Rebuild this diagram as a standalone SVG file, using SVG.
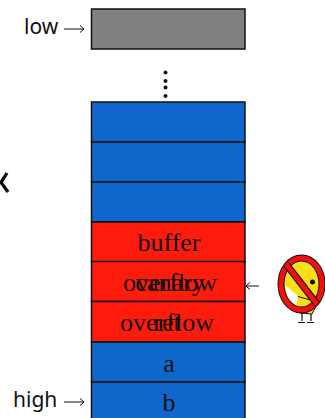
<svg xmlns="http://www.w3.org/2000/svg" width="325" height="418" viewBox="0 0 325 418">
<style>
.c{stroke:#111;stroke-width:1.500}
.b{fill:#0f67cb}.r{fill:#fe1b0b}
.t{font-family:"Liberation Serif",serif;font-size:26px;fill:#111;text-anchor:middle}
.s{font-family:"Noto Sans",sans-serif;font-size:21px;fill:#111}
.a{stroke:#111;stroke-width:1;fill:none}
</style>
<g id="low"><rect class="c" x="91.5" y="9" width="153.5" height="40" fill="#808080"/></g>
<g id="low-label"><text class="s" x="24" y="34">low</text></g>
<g id="high-label"><text class="s" x="13" y="407">high</text></g>
<g id="cell1"><rect class="c b" x="91.5" y="102" width="153.5" height="40"/></g>
<g id="cell2"><rect class="c b" x="91.5" y="142" width="153.5" height="40"/></g>
<g id="cell3"><rect class="c b" x="91.5" y="182" width="153.5" height="40"/></g>
<g id="buffer"><rect class="c r" x="91.5" y="222" width="153.5" height="40"/><text class="t" x="169" y="251">buffer</text></g>
<g id="canary"><rect class="c r" x="91.5" y="261.500" width="153.500" height="40"/><text class="t" x="170" y="291">overflow</text><text class="t" x="170" y="291">canary</text></g>
<g id="ret"><rect class="c r" x="91.5" y="301.500" width="153.500" height="40.500"/><text class="t" x="167" y="331">overflow</text><text class="t" x="167" y="331">ret</text></g>
<g id="a"><rect class="c b" x="91.5" y="342" width="153.500" height="40"/><text class="t" x="169" y="372">a</text></g>
<g id="b"><rect class="c b" x="91.5" y="382" width="153.500" height="40"/><text class="t" x="169" y="411">b</text></g>
<g id="dots" fill="#111"><circle cx="165.500" cy="72.500" r="2"/><circle cx="165.500" cy="81" r="2"/><circle cx="165.500" cy="87.500" r="2"/><circle cx="165.500" cy="96" r="2"/></g>
<g id="connectors">
<path class="a" d="M64 29H84M80 25.500L84 29L80 32.500"/>
<path class="a" d="M64 402H84M80 398.500L84 402L80 405.500"/>
<path class="a" d="M259 286H246M250 282.500L246 286L250 289.500"/>
</g>
<g id="cut-letter"><path d="M7 173L1 182.500L8 192" fill="none" stroke="#000" stroke-width="3.200"/></g>
<g id="bird">
<path d="M302 312v9M298 322.500h7M311 312v9M307 322.500h7" stroke="#111" stroke-width="1.200" fill="none"/>
<ellipse cx="303" cy="283" rx="19" ry="26" fill="#f7e018"/>
<path d="M296 296l-4 14 8 3 12 1 6-12z" fill="#f7e018" stroke="#111" stroke-width="1"/>
<circle cx="312.500" cy="282" r="2.500" fill="#111"/>
<path d="M285 285L288 299L296 306L298 296z" fill="#fff"/>
<ellipse cx="301.500" cy="284" rx="20.500" ry="26" fill="none" stroke="#111" stroke-width="7"/>
<ellipse cx="301.500" cy="284" rx="20.500" ry="26" fill="none" stroke="#f40f0f" stroke-width="5"/>
<path d="M286 264L317 304" stroke="#111" stroke-width="7"/>
<path d="M286 264L317 304" stroke="#f40f0f" stroke-width="5"/>
</g>
</svg>
